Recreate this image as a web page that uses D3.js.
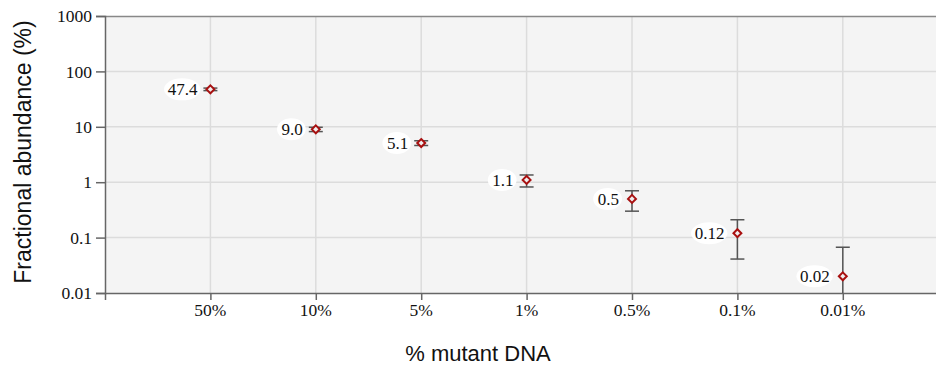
<!DOCTYPE html>
<html>
<meta charset="utf-8">
<title>Fractional abundance</title>
<style>
body { margin: 0; background: #fff; }
text { font-family: "Liberation Serif", "Times New Roman", serif; fill: #111; }
.title { font-family: "Liberation Sans", Arial, sans-serif; }
</style>
<body>
<svg id="chart" width="936" height="366"></svg>
<script src="https://cdn.jsdelivr.net/npm/d3@7"></script>
<script>
// data
var categories = ["50%", "10%", "5%", "1%", "0.5%", "0.1%", "0.01%"];
var values = [47.4, 9.0, 5.1, 1.1, 0.5, 0.12, 0.02];
var errLow = [45, 8.2, 4.6, 0.82, 0.30, 0.041, 0.005];
var errHigh = [50, 9.8, 5.6, 1.35, 0.70, 0.21, 0.067];
var labels = ["47.4", "9.0", "5.1", "1.1", "0.5", "0.12", "0.02"];
var yTicks = [0.01, 0.1, 1, 10, 100, 1000];
var yTickLabels = ["0.01", "0.1", "1", "10", "100", "1000"];

var pLeft = 105, pTop = 16, pBottom = 293, pRight = 936;
var svg = d3.select("#chart");

var x = d3.scaleLinear().domain([0, 8]).range([pLeft, pLeft + 8 * 105.4]);
var y = d3.scaleLog().domain([0.01, 1000]).range([pBottom, pTop]);

// plot background
svg.append("rect")
    .attr("x", pLeft).attr("y", pTop)
    .attr("width", pRight - pLeft).attr("height", pBottom - pTop)
    .attr("fill", "#f4f4f4");

svg.append("clipPath").attr("id", "clip")
  .append("rect")
    .attr("x", pLeft).attr("y", pTop)
    .attr("width", pRight - pLeft).attr("height", pBottom - pTop);

// grid
var grid = svg.append("g").attr("stroke", "#dcdcdc").attr("stroke-width", 1.5);
grid.selectAll(".h").data(yTicks.slice(1, -1)).enter().append("line")
    .attr("x1", pLeft).attr("x2", pRight)
    .attr("y1", function(d) { return y(d); }).attr("y2", function(d) { return y(d); });
grid.selectAll(".v").data(categories).enter().append("line")
    .attr("y1", pTop).attr("y2", pBottom)
    .attr("x1", function(d, i) { return x(i + 1); }).attr("x2", function(d, i) { return x(i + 1); });

// top border
svg.append("line").attr("x1", pLeft).attr("x2", pRight).attr("y1", pTop + 0.5).attr("y2", pTop + 0.5)
    .attr("stroke", "#888").attr("stroke-width", 1.5);

// y axis
var yAxis = d3.axisLeft(y).tickValues(yTicks)
    .tickFormat(function(d, i) { return yTickLabels[i]; })
    .tickSize(9).tickPadding(4);
var gy = svg.append("g").attr("transform", "translate(" + pLeft + ",0)").call(yAxis);
gy.select(".domain").attr("stroke", "#666").attr("stroke-width", 1.5);
gy.selectAll(".tick line").attr("stroke", "#666").attr("stroke-width", 1.5);
gy.selectAll(".tick text").attr("font-family", "Liberation Serif").attr("font-size", 17.5).attr("fill", "#111");

// x axis
var xAxis = d3.axisBottom(x).tickValues(d3.range(0, 8))
    .tickFormat("").tickSize(7).tickSizeOuter(0);
var gx = svg.append("g").attr("transform", "translate(0," + pBottom + ")").call(xAxis);
gx.select(".domain").attr("stroke", "#666").attr("stroke-width", 1.5);
gx.selectAll(".tick line").attr("stroke", "#666").attr("stroke-width", 1.5);

svg.append("g").selectAll("text").data(categories).enter().append("text")
    .attr("x", function(d, i) { return x(i + 1); })
    .attr("y", 316)
    .attr("text-anchor", "middle")
    .attr("font-size", 17.5)
    .text(function(d) { return d; });

// error bars
var eb = svg.append("g").attr("clip-path", "url(#clip)")
    .attr("stroke", "#555").attr("stroke-width", 1.5);
values.forEach(function(v, i) {
  var cx = x(i + 1);
  eb.append("line").attr("x1", cx).attr("x2", cx)
      .attr("y1", y(Math.max(errLow[i], 0.01))).attr("y2", y(errHigh[i]));
  eb.append("line").attr("x1", cx - 7).attr("x2", cx + 7)
      .attr("y1", y(errHigh[i])).attr("y2", y(errHigh[i]));
  if (errLow[i] >= 0.01)
    eb.append("line").attr("x1", cx - 7).attr("x2", cx + 7)
        .attr("y1", y(errLow[i])).attr("y2", y(errLow[i]));
});

// labels with white blobs
var lab = svg.append("g");
values.forEach(function(v, i) {
  var cx = x(i + 1) - 13, cy = y(v);
  var w = labels[i].length * 7.6;
  lab.append("ellipse")
      .attr("cx", cx - w / 2).attr("cy", cy)
      .attr("rx", w / 2 + 3).attr("ry", 11)
      .attr("fill", "#fff");
  lab.append("text")
      .attr("x", cx).attr("y", cy).attr("dy", "0.36em")
      .attr("text-anchor", "end").attr("font-size", 17)
      .text(labels[i]);
});

// markers
var sym = d3.symbol().type(d3.symbolDiamond2).size(40);
svg.append("g").selectAll("path").data(values).enter().append("path")
    .attr("d", sym)
    .attr("transform", function(d, i) { return "translate(" + x(i + 1) + "," + y(d) + ")"; })
    .attr("fill", "#f0eeee").attr("stroke", "#a81010").attr("stroke-width", 2);

// axis titles
svg.append("text").attr("class", "title")
    .attr("transform", "translate(31,152) rotate(-90)")
    .attr("text-anchor", "middle").attr("font-size", 23)
    .text("Fractional abundance (%)");
svg.append("text").attr("class", "title")
    .attr("x", 478).attr("y", 361)
    .attr("text-anchor", "middle").attr("font-size", 22)
    .text("% mutant DNA");
</script>
</body>
</html>
